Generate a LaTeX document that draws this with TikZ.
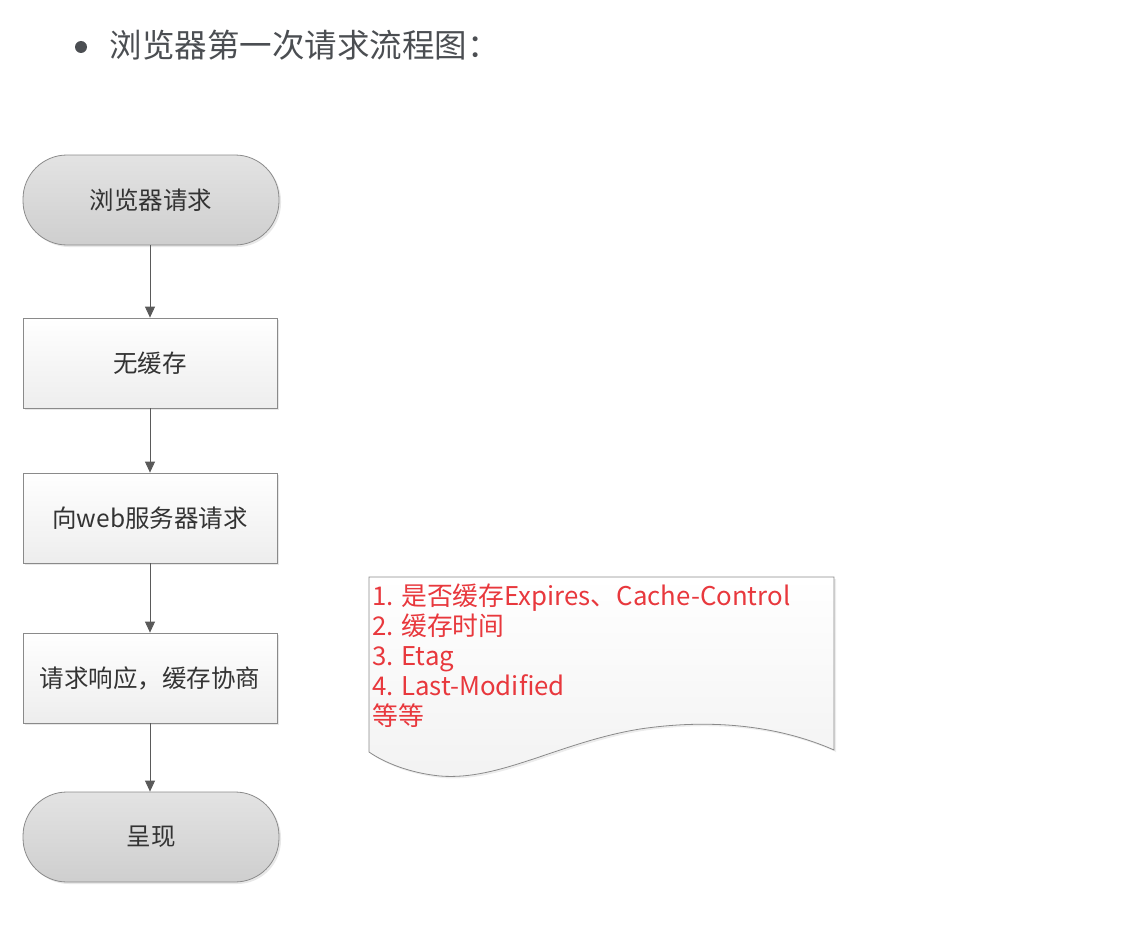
\documentclass[tikz,border=0pt]{standalone}
\usepackage{fontspec}
\setmainfont{Noto Sans CJK SC}
\usepackage{tikz}
\usetikzlibrary{arrows.meta,positioning,shadows}
\usepackage{xcolor}
\definecolor{TitleGray}{HTML}{4B4E52}
\definecolor{LineGray}{HTML}{5A5A5A}
\definecolor{EdgeGray}{HTML}{8A8A8A}
\definecolor{BoxText}{HTML}{333333}
\definecolor{NoteRed}{HTML}{E8383D}
\tikzset{
  termbox/.style={rounded corners=44pt, draw=EdgeGray, top color=gray!22, bottom color=gray!38, thick, minimum width=256pt, minimum height=90pt, text=BoxText, font=\fontsize{24.5}{27}\selectfont, drop shadow={opacity=.18, shadow xshift=2pt, shadow yshift=-2pt}},
  procbox/.style={draw=EdgeGray, top color=white, bottom color=gray!14, thick, minimum width=254pt, minimum height=90pt, text=BoxText, font=\fontsize{24.5}{27}\selectfont, drop shadow={opacity=.18, shadow xshift=2pt, shadow yshift=-2pt}},
  arr/.style={-{Triangle[length=11pt,width=10pt]}, thick, draw=LineGray}
}
\begin{document}
\begin{tikzpicture}[x=1pt,y=-1pt]
\useasboundingbox (0,0) rectangle (1136,942);
% heading
\fill[TitleGray] (81,47) circle (6);
\node[anchor=west, text=TitleGray, font=\fontsize{32.5}{35}\selectfont] (title) at (106,45) {浏览器第一次请求流程图：};
% flow
\node[termbox] (start) at (151,200) {浏览器请求};
\node[procbox] (nocache) at (150,363) {无缓存};
\node[procbox] (ask) at (150,518) {向web服务器请求};
\node[procbox] (reply) at (150,678) {请求响应，缓存协商};
\node[termbox] (show) at (151,837) {呈现};
\draw[arr] (start.south -| nocache) -- (nocache);
\draw[arr] (nocache) -- (ask);
\draw[arr] (ask) -- (reply);
\draw[arr] (reply) -- (show.north -| reply);
% document note
\shade[top color=white, bottom color=gray!10, draw=EdgeGray, thick, drop shadow={opacity=.15, shadow xshift=2pt, shadow yshift=-2pt}]
  (369,577) -- (834,577) -- (834,750)
  .. controls (770,722) and (700,720) .. (640,729)
  .. controls (560,742) and (500,781) .. (440,776)
  .. controls (410,773) and (385,763) .. (369,752) -- cycle;
\node[anchor=north west, inner sep=0pt, align=left, text=NoteRed, font=\fontsize{25.8}{30}\selectfont] (note) at (372,584)
  {1. 是否缓存Expires、Cache-Control\\2. 缓存时间\\3. Etag\\4. Last-Modified\\等等};
\end{tikzpicture}
\end{document}
